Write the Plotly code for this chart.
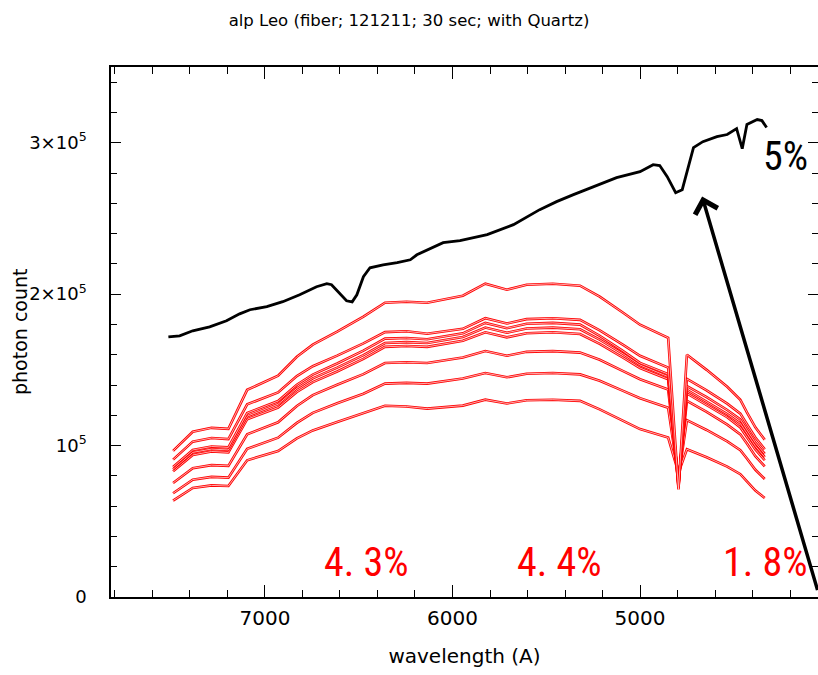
import plotly.graph_objects as go

# ---------------- data ----------------
# black spectrum (5% slit)
black_wl = [7515, 7455, 7385, 7295, 7205, 7135, 7080, 6990, 6905, 6815, 6725, 6670,
            6645, 6610, 6565, 6535, 6510, 6475, 6440, 6370, 6295, 6225, 6190, 6050,
            5960, 5815, 5675, 5535, 5445, 5355, 5250, 5125, 5000, 4930, 4895, 4855,
            4810, 4775, 4715, 4665, 4590, 4535, 4485, 4455, 4430, 4375, 4350, 4325]
black_counts = [171800, 172500, 175800, 178400, 182400, 187000, 189700, 191700, 195000,
                199600, 204900, 206900, 206200, 201600, 195600, 194900, 199600, 211500,
                217400, 219400, 220800, 222700, 226000, 234000, 235300, 239300, 245900,
                255800, 261100, 265700, 271000, 276900, 280900, 285500, 284900, 277600,
                267000, 269000, 296800, 300700, 304000, 305400, 309300, 296100, 312000,
                315300, 314600, 310000]

# red spectra (fiber exposures)
red_wl = [7490, 7385, 7285, 7195, 7095, 6930, 6830, 6745, 6615, 6475, 6360, 6245, 6135,
          5945, 5825, 5710, 5605, 5465, 5320, 5215, 5090, 5000, 4850, 4795, 4750, 4645,
          4535, 4465, 4430, 4385, 4335]
red_a = [96500, 109100, 111700, 111000, 136800, 146100, 158600, 166600, 175200, 185100,
         194300, 195000, 194300, 199000, 206900, 202900, 206200, 206900, 205600, 198300,
         187700, 179800, 171200, 71000, 160000, 150000, 138800, 130200, 122000, 112000, 103800]
red_b1 = [90700, 102600, 105000, 104300, 127200, 135100, 145900, 152400, 159400, 167500,
          174900, 175500, 173900, 177100, 184100, 180600, 183500, 184100, 183000, 176100,
          166500, 159300, 151500, 72000, 144000, 136500, 127700, 121100, 114100, 105300, 97600]
red_b2 = [85900, 97100, 99400, 98800, 121500, 129400, 140200, 146900, 154200, 162700,
          170600, 171000, 170200, 174100, 181000, 177500, 180400, 181000, 179900, 172500,
          162400, 154600, 147200, 73000, 139200, 132000, 123500, 117200, 110400, 101900, 94500]
red_b3 = [84400, 95500, 97700, 97100, 119400, 127300, 137800, 144400, 151500, 159700,
          167700, 168300, 167700, 171700, 177900, 174500, 177300, 177900, 176800, 169900,
          160500, 153200, 145500, 74000, 136800, 129000, 120800, 114600, 108000, 99700, 92400]
red_b4 = [83000, 93800, 96100, 95500, 117400, 125100, 135400, 141900, 148900, 157300,
          165200, 165800, 165200, 169200, 174800, 171500, 174200, 174800, 173700, 167200,
          158000, 151200, 143800, 74500, 134400, 126800, 118700, 112000, 105500, 97400, 90300]
red_c = [75300, 85100, 87100, 86600, 107400, 115400, 126100, 133300, 140200, 147200,
         154500, 155000, 154500, 158200, 162400, 159300, 161900, 162400, 161400, 156700,
         149200, 143800, 137000, 77000, 129600, 122300, 113800, 107400, 101300, 93000, 86200]
red_d = [68500, 77500, 79300, 78800, 97800, 105200, 115000, 121600, 127900, 134200,
         140900, 141400, 140900, 144300, 147900, 145100, 147400, 147900, 147000, 142800,
         136100, 131300, 125000, 79000, 116800, 110300, 102700, 97000, 91500, 84000, 77900]
red_e = [63700, 72000, 73700, 73300, 90300, 96400, 104700, 110000, 115600, 121200,
         126300, 125800, 124400, 126400, 130300, 127800, 129900, 130300, 129500, 123900,
         116400, 110900, 105300, 82000, 97600, 92300, 86100, 81100, 76300, 70300, 65400]

x_tick_vals = [7000, 6000, 5000]
x_tick_text = ["7000", "6000", "5000"]
y_tick_vals = [0, 100000, 200000, 300000]
y_tick_text = ["0", "10<sup>5</sup>", "2×10<sup>5</sup>", "3×10<sup>5</sup>"]

title_text = "alp Leo (fiber; 121211; 30 sec; with Quartz)"
x_title = "wavelength (A)"
y_title = "photon count"
black_label = "5%"
red_labels = ["4. 3%", "4. 4%", "1. 8%"]

# ---------------- figure ----------------
fig = go.Figure()

red_series = [red_e, red_d, red_c, red_b4, red_b3, red_b2, red_b1, red_a]
for s in red_series:
    fig.add_trace(go.Scatter(x=red_wl, y=s, mode="lines", hoverinfo="skip",
                             line=dict(color="#ff0000", width=2.6), showlegend=False))
    fig.add_trace(go.Scatter(x=red_wl, y=s, mode="lines", hoverinfo="skip",
                             line=dict(color="#ffd4d4", width=0.8), showlegend=False))

fig.add_trace(go.Scatter(x=black_wl, y=black_counts, mode="lines",
                         line=dict(color="black", width=2.8), showlegend=False))

# helper trace for right-side tick axis
fig.add_trace(go.Scatter(x=[None], y=[None], yaxis="y2", showlegend=False, hoverinfo="skip"))

font_main = "DejaVu Sans"

fig.update_layout(
    width=818, height=675,
    paper_bgcolor="white", plot_bgcolor="white",
    margin=dict(l=111, r=0, t=67, b=78),
    font=dict(family=font_main, color="black", size=18),
    title=dict(text=title_text, x=0.5, xref="container", xanchor="center",
               y=1 - 20 / 675, yref="container", yanchor="middle",
               font=dict(family=font_main, size=16.5, color="black")),
    xaxis=dict(
        range=[7821, 4051], showgrid=False, zeroline=False, automargin=False,
        showline=True, linecolor="black", linewidth=1.5, mirror="ticks",
        ticks="inside", ticklen=12, tickwidth=1.3, tickcolor="black",
        tickmode="array", tickvals=x_tick_vals, ticktext=x_tick_text,
        tickfont=dict(size=20), ticklabelstandoff=2,
        minor=dict(tickmode="linear", tick0=0, dtick=200, ticks="inside",
                   ticklen=7, tickwidth=1.3, tickcolor="black"),
        title=dict(text=x_title, font=dict(size=20), standoff=20),
    ),
    yaxis=dict(
        range=[0, 350000], showgrid=False, zeroline=False, automargin=False,
        showline=True, linecolor="black", linewidth=1.5, mirror=False,
        ticks="inside", ticklen=10, tickwidth=1.3, tickcolor="black",
        tickmode="array", tickvals=y_tick_vals, ticktext=y_tick_text,
        tickfont=dict(size=18), ticklabelstandoff=19,
        minor=dict(tickmode="linear", tick0=0, dtick=20000, ticks="inside",
                   ticklen=6, tickwidth=1.3, tickcolor="black"),
    ),
    yaxis2=dict(
        range=[0, 350000], overlaying="y", side="right", showgrid=False,
        zeroline=False, showline=False, showticklabels=False, automargin=False,
        ticks="inside", ticklen=10, tickwidth=1.3, tickcolor="black",
        tickmode="array", tickvals=y_tick_vals,
        minor=dict(tickmode="linear", tick0=0, dtick=20000, ticks="inside",
                   ticklen=6, tickwidth=1.3, tickcolor="black"),
    ),
)

# y-axis title placed precisely beside the tick labels
fig.add_annotation(x=-(111 - 20) / 707, y=(597 - 332) / 530, xref="paper", yref="paper",
                   text=y_title, textangle=-90, showarrow=False,
                   xanchor="center", yanchor="middle",
                   font=dict(family=font_main, size=19, color="black"))

pct_font = "Liberation Sans Narrow, Roboto Condensed, Archivo Narrow, PT Sans Narrow, DejaVu Sans Condensed, sans-serif"
fig.add_annotation(x=4226, y=290800, xref="x", yref="y", text=black_label, showarrow=False,
                   font=dict(family=pct_font, size=40, color="black"))
for label, xpos in zip(red_labels, [6461, 5432, 4333]):
    fig.add_annotation(x=xpos, y=22500, xref="x", yref="y", text=label, showarrow=False,
                       font=dict(family=pct_font, size=40, color="#ff0000"))

fig.add_annotation(x=4669, y=264400, xref="x", yref="y", text="", showarrow=True,
                   ax=125, ay=395, arrowhead=4, arrowsize=1.3, arrowwidth=3.5,
                   arrowcolor="black", standoff=0)

fig.write_html("out.html", config={"displayModeBar": False},
               post_script="document.body.style.margin='0';")
